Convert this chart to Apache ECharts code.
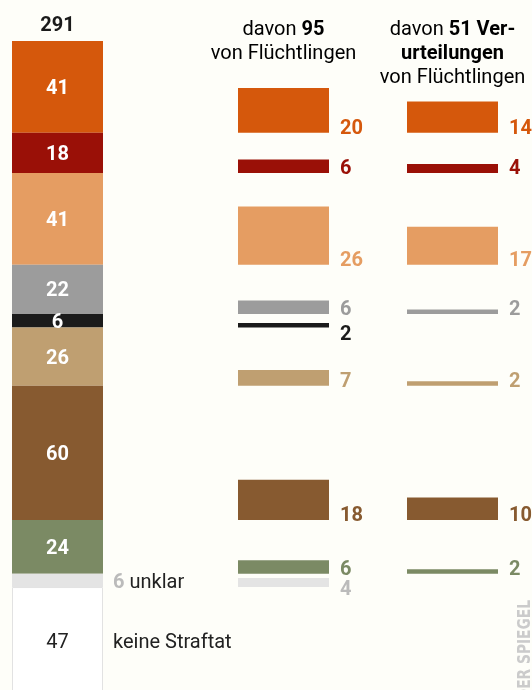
<!DOCTYPE html>
<html><head><meta charset="utf-8">
<script src="https://cdn.jsdelivr.net/npm/echarts@6/dist/echarts.min.js"></script>
<style>html,body{margin:0;padding:0;background:#fefef9}#c{width:532px;height:690px}</style>
</head><body><div id="c"></div>
<script>
// ---- data ----
const categories = ['Kategorie 1','Kategorie 2','Kategorie 3','Kategorie 4','Kategorie 5','Kategorie 6','Kategorie 7','Kategorie 8','unklar','keine Straftat'];
const totalCases = [41, 18, 41, 22, 6, 26, 60, 24, 6, 47];
const refugeeCases = [20, 6, 26, 6, 2, 7, 18, 6, 4, 0];
const refugeeConvictions = [14, 4, 17, 2, 0, 2, 10, 2, 0, 0];
const subtitle = '(Zählung der Fälle)';
const brand = 'DER SPIEGEL';

// ---- style ----
const colors = ['#d5580c','#9a1007','#e59d62','#9c9c9c','#1b1b1b','#bf9f71','#875a30','#7b8a64','#e4e4e4','#ffffff'];
const labelColors = ['#d5580c','#9a1007','#e59d62','#9c9c9c','#1b1b1b','#bf9f71','#875a30','#7b8a64','#bbbbbb','#222'];
const FONT = 'Roboto';
const NUM = 20;
const sum = a => a.reduce((s, v) => s + v, 0);

const grids = [
  {left: 12, width: 91, top: 41, bottom: 0, outerBoundsMode: 'none'},
  {left: 238, width: 91, top: 41, bottom: 0, outerBoundsMode: 'none'},
  {left: 407, width: 91, top: 41, bottom: 0, outerBoundsMode: 'none'}
];
const xAxes = grids.map((g, i) => ({type: 'category', gridIndex: i, data: ['x'], show: false}));
const yAxes = grids.map((g, i) => ({type: 'value', gridIndex: i, inverse: true, min: 0, max: 290, show: false}));

const series = [];
totalCases.forEach((v, i) => {
  let label = {show: true, position: 'inside', offset: [0, 2], color: '#fff', fontFamily: FONT, fontWeight: 'bold', fontSize: NUM};
  if (i === 8) {
    label = {show: true, position: 'right', distance: 10, offset: [0, 3], fontFamily: FONT, fontSize: NUM,
      formatter: () => '{n|' + v + '} {t|' + categories[i] + '}',
      rich: {n: {color: labelColors[i], fontWeight: 'bold', fontSize: NUM, fontFamily: FONT},
             t: {color: '#222', fontSize: NUM, fontFamily: FONT}}};
  } else if (i === 9) {
    label = {show: true, position: ['0%', '50%'], align: 'left', verticalAlign: 'middle', offset: [0, 3],
      formatter: () => '{v|' + v + '}{t|' + categories[i] + '}',
      rich: {v: {width: 91, align: 'center', color: '#222', fontSize: NUM, fontFamily: FONT},
             t: {padding: [0, 0, 0, 10], color: '#222', fontSize: NUM, fontFamily: FONT}}};
  }
  series.push({
    type: 'bar', name: categories[i], xAxisIndex: 0, yAxisIndex: 0, stack: 's0', barWidth: '100%', clip: false,
    data: [v],
    itemStyle: i === 9 ? {color: colors[i], borderColor: '#e2e2e2', borderWidth: 1} : {color: colors[i]},
    label
  });
});

const extraOffset = {'1-4': 12, '1-8': 7};
[refugeeCases, refugeeConvictions].forEach((arr, k) => {
  const g = k + 1;
  totalCases.forEach((tot, i) => {
    const v = arr[i];
    if (i === 9) return;
    series.push({type: 'bar', xAxisIndex: g, yAxisIndex: g, stack: 's' + g, barWidth: '100%', silent: true,
      data: [tot - v], itemStyle: {color: 'rgba(0,0,0,0)'}, label: {show: false}});
    if (v > 0) {
      series.push({type: 'bar', name: categories[i], xAxisIndex: g, yAxisIndex: g, stack: 's' + g, barWidth: '100%',
        data: [v], itemStyle: {color: colors[i]},
        label: {show: true, position: ['100%', '100%'], align: 'left', verticalAlign: 'bottom',
          offset: [11, 6 + (extraOffset[g + '-' + i] || 0)],
          color: labelColors[i], fontFamily: FONT, fontWeight: 'bold', fontSize: NUM}});
    }
  });
});

const head = {r: {fontFamily: FONT, fontSize: 20, color: '#222', lineHeight: 24},
              b: {fontFamily: FONT, fontSize: 20, fontWeight: 'bold', color: '#1a1a1a', lineHeight: 24}};

const option = {
  backgroundColor: '#fefef9',
  animation: false,
  grid: grids, xAxis: xAxes, yAxis: yAxes, series,
  graphic: [
    {type: 'text', left: 15, top: -20, style: {text: subtitle, font: '20px ' + FONT, fill: '#222'}},
    {type: 'text', x: 57.5, y: 26, style: {text: String(sum(totalCases)), font: 'bold 20px ' + FONT, fill: '#1a1a1a', align: 'center', verticalAlign: 'middle'}},
    {type: 'text', x: 283.5, y: 18, style: {text: '{r|davon }{b|' + sum(refugeeCases) + '}\n{r|von Flüchtlingen}', rich: head, align: 'center', verticalAlign: 'top'}},
    {type: 'text', x: 452.5, y: 18, style: {text: '{r|davon }{b|' + sum(refugeeConvictions) + ' Ver-}\n{b|urteilungen}\n{r|von Flüchtlingen}', rich: head, align: 'center', verticalAlign: 'top'}},
    {type: 'text', x: 526, y: 600, rotation: Math.PI / 2, scaleX: 0.9, style: {text: brand, font: 'bold 17px "DejaVu Sans Condensed"', fill: '#cbcbcb', align: 'right', verticalAlign: 'middle'}}
  ]
};
const chart = echarts.init(document.getElementById('c'), null, {renderer: 'canvas'});
chart.setOption(option);
</script></body></html>
